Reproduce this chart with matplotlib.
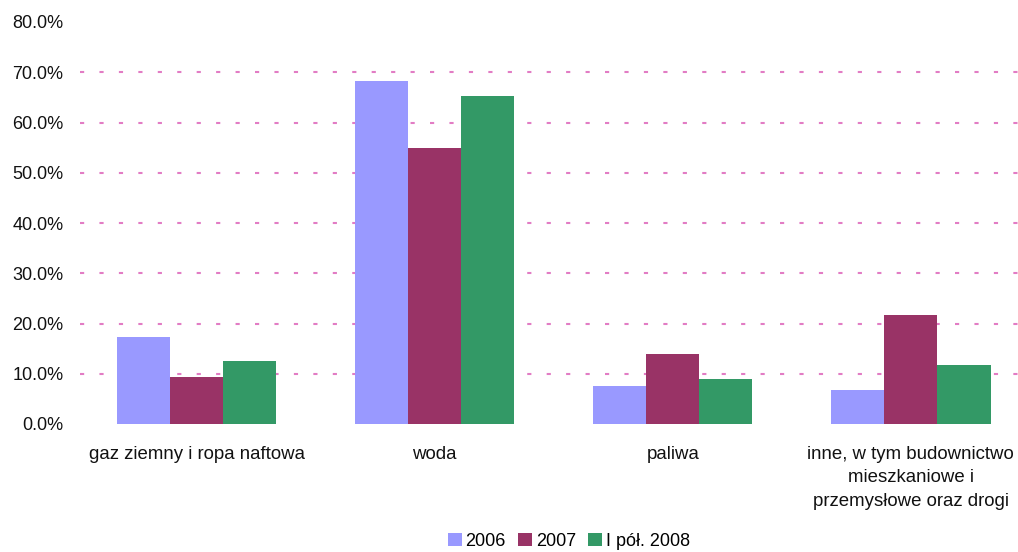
import matplotlib
matplotlib.use("Agg")
import matplotlib.pyplot as plt
import numpy as np
from matplotlib.ticker import FuncFormatter

plt.rcParams['font.family'] = ['Liberation Sans', 'DejaVu Sans']
plt.rcParams['lines.scale_dashes'] = False

categories = [
    "gaz ziemny i ropa naftowa",
    "woda",
    "paliwa",
    "inne, w tym budownictwo\nmieszkaniowe i\nprzemysłowe oraz drogi",
]
series_names = ["2006", "2007", "I pół. 2008"]
values_2006 = [17.3, 68.3, 7.6, 6.8]
values_2007 = [9.4, 55.0, 13.9, 21.7]
values_2008 = [12.5, 65.3, 9.0, 11.8]
colors = ["#9999ff", "#993366", "#339966"]

fig = plt.figure(figsize=(10.18, 5.52), dpi=100)
ax = fig.add_axes([80 / 1018, 1 - 424 / 552, 1 - 80 / 1018, (424 - 22) / 552])

x = np.arange(len(categories))
w = 0.223
for k, (vals, name, c) in enumerate(zip([values_2006, values_2007, values_2008], series_names, colors)):
    ax.bar(x + (k - 1) * w, vals, width=w, color=c, label=name, zorder=3)

# dashed horizontal guides
for yv in range(10, 80, 10):
    ax.axhline(yv, color="#e27cc4", lw=1.5, linestyle=(0.0, (3.0, 11.0)), zorder=1)

ax.set_ylim(0, 80)
ax.set_xlim(-0.49, 3.45)
ax.set_yticks(np.arange(0, 81, 10))
ax.yaxis.set_major_formatter(FuncFormatter(lambda v, p: f"{v:.1f}%"))
ax.set_xticks(x)
ax.set_xticklabels(categories, linespacing=1.5, fontsize=13.4)
ax.tick_params(axis="both", length=0, colors="#111111")
ax.tick_params(axis="y", pad=12, labelsize=13)
ax.tick_params(axis="x", pad=15.5)
for s in ax.spines.values():
    s.set_visible(False)

fig.legend(loc="center", bbox_to_anchor=(569 / 1018, 1 - 541 / 552), ncol=3, frameon=False,
           fontsize=13, handlelength=0.75, handleheight=0.75, handletextpad=0.2,
           columnspacing=0.7, borderpad=0)

fig.savefig("out.png", dpi=100)
